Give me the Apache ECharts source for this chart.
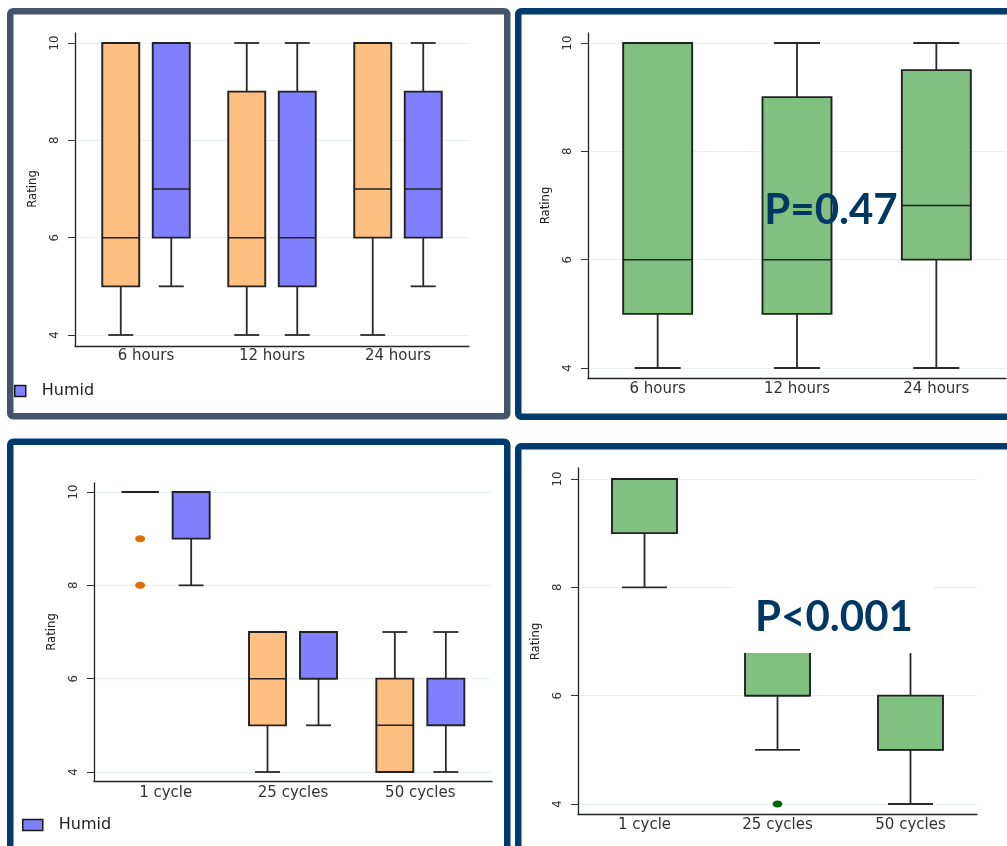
<!DOCTYPE html>
<html>
<head>
<meta charset="utf-8">
<title>Rating box plots</title>
<script src="https://cdn.jsdelivr.net/npm/echarts@6/dist/echarts.min.js"></script>
<style>
  html, body { margin: 0; padding: 0; background: #ffffff; }
  #chart { width: 1007px; height: 846px; }
</style>
</head>
<body>
<div id="chart"></div>
<script>
// ---- data ----------------------------------------------------------------
const hourCats = ['6 hours', '12 hours', '24 hours'];
const cycleCats = ['1 cycle', '25 cycles', '50 cycles'];
const ratingTicks = [4, 6, 8, 10];

// each row: [min, Q1, median, Q3, max]
const hoursDry = [[4, 5, 6, 10, 10], [4, 5, 6, 9, 10], [4, 6, 7, 10, 10]];
const hoursHumid = [[5, 6, 7, 10, 10], [4, 5, 6, 9, 10], [5, 6, 7, 9, 10]];
const hoursAll = [[4, 5, 6, 10, 10], [4, 5, 6, 9, 10], [4, 6, 7, 9.5, 10]];

const cyclesDry = [[10, 10, 10, 10, 10], [4, 5, 6, 7, 7], [4, 4, 5, 6, 7]];
const cyclesHumid = [[8, 9, 10, 10, 10], [5, 6, 6, 7, 7], [4, 5, 5, 6, 7]];
const cyclesAll = [[8, 9, 10, 10, 10], [5, 6, 6, 7, 7], [4, 5, 5, 6, 7]];

// outliers: [category index, rating]
const cyclesDryOutliers = [[0, 9], [0, 8]];
const cyclesAllOutliers = [[1, 4]];

const pHours = 'P=0.47';
const pCycles = 'P<0.001';

// ---- styling -------------------------------------------------------------
const ORANGE = '#ffbf80';
const BLUE = '#8080ff';
const GREEN = '#80c080';
const EDGE = '#222222';
const NAVY = '#003b6e';
const SLATE = '#44546a';
const narrowFont = "'Liberation Sans Narrow', 'DejaVu Sans Condensed', sans-serif";
const wideFont = "'DejaVu Sans', Verdana, sans-serif";

// plot frames: axis-line box, tick span and inner category inset
const layouts = [
  { x0: 75,  x1: 469,  top: 33,  bottom: 346, y10: 43,  y4: 335, pad: 8, cats: hourCats },
  { x0: 588, x1: 1006, top: 33,  bottom: 378, y10: 43,  y4: 368, pad: 0, cats: hourCats },
  { x0: 94,  x1: 492,  top: 483, bottom: 781, y10: 492, y4: 772, pad: 8, cats: cycleCats },
  { x0: 578, x1: 977,  top: 468, bottom: 814, y10: 479, y4: 804, pad: 0, cats: cycleCats }
];

function toRows(stats) {
  return stats.map((s, i) => [i].concat(s));
}

function boxRenderer(offset, boxW, capW, fill) {
  return function (params, api) {
    const c = api.value(0);
    const lo = api.coord([c, api.value(1)]);
    const q1 = api.coord([c, api.value(2)]);
    const md = api.coord([c, api.value(3)]);
    const q3 = api.coord([c, api.value(4)]);
    const hi = api.coord([c, api.value(5)]);
    const x = lo[0] + offset;
    const whisker = { stroke: '#2a2a2a', lineWidth: 1.8 };
    return {
      type: 'group',
      children: [
        { type: 'line', shape: { x1: x, y1: q3[1], x2: x, y2: hi[1] }, style: whisker },
        { type: 'line', shape: { x1: x, y1: q1[1], x2: x, y2: lo[1] }, style: whisker },
        { type: 'line', shape: { x1: x - capW / 2, y1: hi[1], x2: x + capW / 2, y2: hi[1] }, style: whisker },
        { type: 'line', shape: { x1: x - capW / 2, y1: lo[1], x2: x + capW / 2, y2: lo[1] }, style: whisker },
        { type: 'rect', shape: { x: x - boxW / 2, y: q3[1], width: boxW, height: q1[1] - q3[1] },
          style: { fill: fill, stroke: EDGE, lineWidth: 1.9 } },
        { type: 'line', shape: { x1: x - boxW / 2, y1: md[1], x2: x + boxW / 2, y2: md[1] },
          style: { stroke: EDGE, lineWidth: 1.5 } }
      ]
    };
  };
}

const grids = [], xAxes = [], yAxes = [];
layouts.forEach((L) => {
  // axis lines frame
  grids.push({ left: L.x0, top: L.top, width: L.x1 - L.x0, height: L.bottom - L.top });
  xAxes.push({ gridIndex: grids.length - 1, type: 'value', min: 0, max: 1,
    axisLine: { show: true, onZero: false, lineStyle: { color: '#222', width: 1.3 } },
    axisTick: { show: false }, axisLabel: { show: false }, splitLine: { show: false } });
  yAxes.push({ gridIndex: grids.length - 1, type: 'value', min: 0, max: 1,
    axisLine: { show: true, onZero: false, lineStyle: { color: '#222', width: 1.3 } },
    axisTick: { show: false }, axisLabel: { show: false }, splitLine: { show: false } });

  // rating scale: ticks, labels, gridlines, title
  grids.push({ left: L.x0, top: L.y10, width: L.x1 - L.x0, height: L.y4 - L.y10 });
  xAxes.push({ gridIndex: grids.length - 1, type: 'value', show: false });
  yAxes.push({ gridIndex: grids.length - 1, type: 'value',
    min: ratingTicks[0], max: ratingTicks[ratingTicks.length - 1], interval: 2,
    axisLine: { show: false },
    axisTick: { show: true, length: 7, lineStyle: { color: '#333', width: 1 } },
    axisLabel: { rotate: 90, margin: 14, color: '#333', fontFamily: narrowFont, fontSize: 13 },
    splitLine: { show: true, lineStyle: { color: '#e8f0f0', width: 1 } },
    name: 'Rating', nameLocation: 'middle', nameGap: 36,
    nameTextStyle: { color: '#222', fontFamily: narrowFont, fontSize: 13 } });

  // categories and boxes
  grids.push({ left: L.x0 + L.pad, top: L.y10, width: L.x1 - L.x0 - 2 * L.pad, height: L.y4 - L.y10 });
  xAxes.push({ gridIndex: grids.length - 1, type: 'category', data: L.cats,
    axisLine: { show: false }, axisTick: { show: false },
    axisLabel: { margin: 14, color: '#333', fontFamily: wideFont, fontSize: 15 } });
  yAxes.push({ gridIndex: grids.length - 1, type: 'value',
    min: ratingTicks[0], max: ratingTicks[ratingTicks.length - 1], show: false });
});

function boxSeries(name, panel, stats, offset, boxW, capW, fill) {
  const idx = panel * 3 + 2;
  return {
    type: 'custom', name: name, xAxisIndex: idx, yAxisIndex: idx,
    itemStyle: { color: fill },
    encode: { x: 0, y: [1, 2, 3, 4, 5] },
    renderItem: boxRenderer(offset, boxW, capW, fill),
    data: toRows(stats), silent: true, z: 2
  };
}

function outlierSeries(name, panel, points, offset, color) {
  const idx = panel * 3 + 2;
  return {
    type: 'scatter', name: name, xAxisIndex: idx, yAxisIndex: idx,
    symbol: 'circle', symbolSize: [10, 7], symbolOffset: [offset, 0],
    itemStyle: { color: color, opacity: 1 }, data: points, silent: true, z: 3
  };
}

const series = [
  boxSeries('Dry', 0, hoursDry, -25.25, 37, 25, ORANGE),
  boxSeries('Humid', 0, hoursHumid, 25.25, 37, 25, BLUE),
  boxSeries('All', 1, hoursAll, 0, 69, 46, GREEN),
  boxSeries('Dry', 2, cyclesDry, -25.5, 37, 25, ORANGE),
  boxSeries('Humid', 2, cyclesHumid, 25.5, 37, 25, BLUE),
  outlierSeries('Dry', 2, cyclesDryOutliers, -25.5, '#e06d00'),
  boxSeries('All', 3, cyclesAll, 0, 65, 45, GREEN),
  outlierSeries('All', 3, cyclesAllOutliers, 0, '#006400')
];

function humidLegend(left, top, iconW) {
  return {
    data: [{ name: 'Humid', itemStyle: { color: BLUE, borderColor: '#1a1a1a', borderWidth: 1.5 } }],
    left: left, top: top, padding: 0, icon: 'rect', itemWidth: iconW, itemHeight: 11,
    selectedMode: false,
    textStyle: { color: '#222', fontFamily: wideFont, fontSize: 16, padding: [0, 0, 0, 11] }
  };
}

function panelBorder(x, y, w, h, color) {
  return { type: 'rect', z: 200, silent: true,
    shape: { x: x, y: y, width: w, height: h, r: 3 },
    style: { fill: 'none', stroke: color, lineWidth: 6.5 } };
}

const option = {
  animation: false,
  backgroundColor: '#ffffff',
  grid: grids,
  xAxis: xAxes,
  yAxis: yAxes,
  legend: [humidLegend(14, 383, 11), humidLegend(22, 817, 20)],
  series: series,
  graphic: [
    { type: 'text', z: 100, silent: true,
      style: { text: pHours, x: 831, y: 210, align: 'center', verticalAlign: 'middle',
        font: "bold 42px Lato, 'Open Sans', sans-serif", fill: '#003865' } },
    { type: 'rect', z: 99, silent: true,
      shape: { x: 733, y: 582, width: 200, height: 71 }, style: { fill: '#ffffff' } },
    { type: 'text', z: 100, silent: true,
      style: { text: pCycles, x: 834, y: 617, align: 'center', verticalAlign: 'middle',
        font: "bold 42px Lato, 'Open Sans', sans-serif", fill: '#003865' } },
    panelBorder(10.25, 11.25, 497, 405, SLATE),
    panelBorder(518.25, 11.25, 600, 405.5, NAVY),
    panelBorder(10.25, 441.75, 497, 500, NAVY),
    panelBorder(518.25, 446.25, 600, 500, NAVY)
  ]
};

const chart = echarts.init(document.getElementById('chart'), null, { renderer: 'canvas' });
chart.setOption(option);
</script>
</body>
</html>
